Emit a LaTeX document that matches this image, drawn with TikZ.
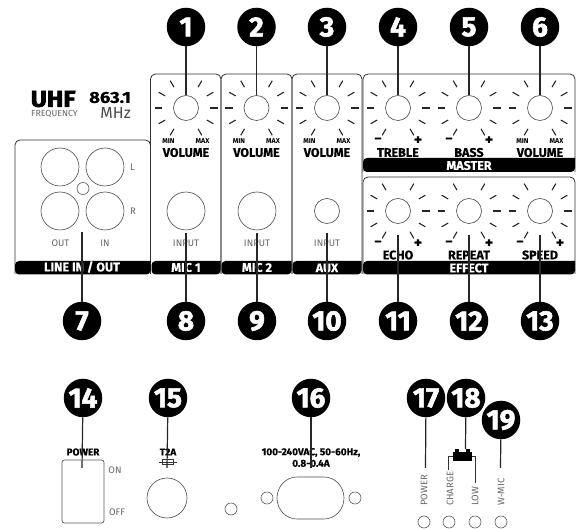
\documentclass[tikz,border=0pt]{standalone}
\usepackage{fontspec}
\setmainfont{Fira Sans}
\usepackage{tikz}
\usepackage{xcolor}
\newcommand{\sz}[1]{\fontsize{#1}{#1}\selectfont}
\newfontfamily\numfont[FakeBold=2]{Fira Sans Bold}
\newfontfamily\logofont[FakeBold=2.5]{Fira Sans Bold}
\newfontfamily\wordfont[FakeBold=0.4]{Fira Sans Bold}
\tikzset{
  callout/.style={circle, fill=black, minimum size=38.5pt, inner sep=0pt, text=white, font=\numfont\sz{28}},
  leader/.style={line width=1.2pt, black!85},
  panel/.style={draw=black!80, line width=0.8pt, rounded corners=5pt},
  band/.style={fill=black, rounded corners=4pt},
  bandlabel/.style={text=white, inner sep=0pt, font=\wordfont\sz{12.5}},
  knob/.style={circle, draw=black!70, line width=0.6pt, minimum size=25pt, inner sep=0pt},
  jack/.style={circle, draw=black!70, line width=0.6pt, minimum size=38pt, inner sep=0pt},
  led/.style={circle, draw=black!65, line width=0.6pt, minimum size=12pt, inner sep=0pt},
  tick/.style={line width=1.1pt, black!85},
  title/.style={inner sep=0pt, font=\wordfont\sz{12.5}},
  small/.style={inner sep=0pt, font=\bfseries\sz{7}},
  sign/.style={inner sep=0pt, font=\wordfont\sz{15}},
  faint/.style={inner sep=0pt, text=black!60, font=\sz{9.5}},
  smalltitle/.style={inner sep=0pt, font=\wordfont\sz{10}},
}
\begin{document}
\begin{tikzpicture}[x=1pt, y=-1pt]
  \useasboundingbox (0,0) rectangle (579,529);
  % === Logo ===
  \node[inner sep=0pt, anchor=west, xscale=1.08, font=\logofont\sz{23}] (uhf) at (30.5,99) {UHF};
  \node[inner sep=0pt, anchor=west, text=black!60, font=\sz{8.8}] (freq) at (31,114) {FREQUENCY};
  \node[inner sep=0pt, anchor=east, xscale=1.15, font=\wordfont\sz{16}] (freqval) at (131,97.5) {863.1};
  \node[inner sep=0pt, anchor=east, text=black!70, font=\sz{16}] (mhz) at (131,112.5) {MHz};
  % === Panels ===
  \draw[panel] (15,274) |- (150.5,140) -- (150.5,274);
  \foreach \xa/\xb in {150.5/221, 221/292, 292/362}
    \draw[panel] (\xa,274) -- (\xa,74) -- (\xb,74) -- (\xb,274);
  \draw[panel] (363,172) |- (575,74) -- (575,172);
  \draw[panel] (363,274) |- (575,177) -- (575,274);
  % === Bands ===
  \foreach \xa/\xb/\ya/\yb in {15/150.5/261/274.5, 151.5/220.5/261/274.5, 221.5/291.5/261/274.5,
      292.5/361.5/261/274.5, 363/575/158/172, 363/575/261/274.5}
    \fill[band] (\xa,\ya) [sharp corners] -- (\xb,\ya) [rounded corners=4pt] -- (\xb,\yb) -- (\xa,\yb) -- cycle;
  \node[bandlabel] (blinein) at (82,267) {LINE IN / OUT};
  \node[bandlabel] (bmic1) at (186,267.5) {MIC 1};
  \node[bandlabel] (bmic2) at (257,267.5) {MIC 2};
  \node[bandlabel] (baux) at (327,268) {AUX};
  \node[bandlabel] (bmaster) at (469,165.5) {MASTER};
  \node[bandlabel] (beffect) at (469,268) {EFFECT};
  % === Knobs ===
  \foreach \n/\xx in {1/186, 2/256.5, 3/327, 4/398, 5/469, 6/540} {
    \node[knob] (k\n) at (\xx,108) {};
    \foreach \ang in {0,30,60,120,150,180,210,240,300,330}
      \draw[tick] (k\n.center) ++(\ang:24) -- ++(\ang:7.5);
  }
  \foreach \n/\xx in {11/398, 12/469, 13/540} {
    \node[knob] (k\n) at (\xx,211) {};
    \foreach \ang in {0,30,60,90,120,150,180,210,240,300,330}
      \draw[tick] (k\n.center) ++(\ang:24) -- ++(\ang:7.5);
  }
  \foreach \n/\xx/\yy/\lbl in {1/186/152.5/VOLUME, 2/256.5/152.5/VOLUME, 3/327/152.5/VOLUME, 4/398/152.5/TREBLE,
      5/469/152.5/BASS, 6/540/152.5/VOLUME, 11/398/255/ECHO, 12/469/255/REPEAT, 13/540/255/SPEED}
    \node[title] (t\n) at (\xx,\yy) {\lbl};
  \foreach \n/\xx in {1/186, 2/256.5, 3/327, 6/540} {
    \node[small] (min\n) at (\xx-17.5,141) {MIN};
    \node[small] (max\n) at (\xx+16.5,141) {MAX};
  }
  \foreach \n/\xx/\yy in {4/398/140.5, 5/469/140.5, 11/398/243.5, 12/469/243.5, 13/540/243.5} {
    \node[sign] (minus\n) at (\xx-20,\yy) {\textminus};
    \node[sign] (plus\n) at (\xx+20,\yy) {+};
  }
  % === Jacks ===
  \node[jack] (j1) at (60,167) {};
  \node[jack] (j2) at (105,167) {};
  \node[jack] (j3) at (60,211) {};
  \node[jack] (j4) at (105,211) {};
  \node[led] (j5) at (83,188.5) {};
  \node[jack] (j8) at (186,211) {};
  \node[jack] (j9) at (257,211) {};
  \node[knob] (j10) at (327,211) {};
  \node[faint] (lleft) at (132.5,167) {L};
  \node[faint] (lright) at (133,211.5) {R};
  \node[faint] (lout) at (60.5,243) {OUT};
  \node[faint] (lin) at (105,243) {IN};
  \node[faint] (in8) at (186,243) {INPUT};
  \node[faint] (in9) at (257,243) {INPUT};
  \node[faint] (in10) at (327,243) {INPUT};
  % === Spodni cast ===
  \node[smalltitle] (lpower) at (83,452) {POWER};
  \draw[draw=black!65, line width=0.7pt, rounded corners=2.5pt] (62,460) rectangle (104,523);
  \node[faint] (lon) at (115,470) {ON};
  \node[faint] (loff) at (117,512) {OFF};
  \node[smalltitle] (lfuse) at (168,452) {T2A};
  \draw[black!80, line width=0.7pt] (159,462) -- (177,462);
  \draw[black!80, line width=0.7pt] (162,459.5) rectangle (173,464.5);
  \node[circle, draw=black!70, line width=0.6pt, minimum size=40pt, inner sep=0pt] (fuse) at (167,498) {};
  \node[led] (s1) at (231,509) {};
  \node[led] (s2) at (267,498) {};
  \node[led] (s3) at (355,498) {};
  \draw[black!70, line width=0.6pt] (297,477) -- (324,477) arc[start angle=90, end angle=-90, x radius=20pt, y radius=21pt]
    -- (297,519) arc[start angle=270, end angle=90, x radius=20pt, y radius=21pt];
  \node[smalltitle, align=center] (lmains) at (311,457.5) {100-240VAC, 50-60Hz,\\[1.5pt]0.8-0.4A};
  \foreach \n/\xx in {1/424, 2/449, 3/475, 4/501}
    \node[led] (l\n) at (\xx,522) {};
  \foreach \n/\xx/\lbl in {1/424/POWER, 2/450/CHARGE, 3/475/LOW, 4/501/W-MIC}
    \node[faint, rotate=90, anchor=west] (r\n) at (\xx,506) {\lbl};
  % baterie
  \node[fill=black, minimum width=19pt, minimum height=9pt, inner sep=0pt] (batt) at (462.5,456.5) {};
  \fill[black] (455,449.5) rectangle (459,452);
  \fill[black] (466,449.5) rectangle (470,452);
  \draw[black!80, line width=0.7pt] (batt.west) -- (448.5,456.5) -- (448.5,470);
  \draw[black!80, line width=0.7pt] (batt.east) -- (475,456.5) -- (475,483);
  % === Cisla a vodici cary ===
  \foreach \n/\xx/\yy in {7/82/232, 8/186/233, 9/257/233, 10/327/233, 11/398/236, 12/469/236, 13/540/236,
      14/82/468, 15/167/468, 16/311/468, 17/425.5/468, 18/465.5/449, 19/500.5/468}
    \coordinate (e\n) at (\xx,\yy);
  \foreach \n/\xx in {1/186, 2/256.5, 3/327, 4/398, 5/469, 6/540} {
    \node[callout] (c\n) at (\xx,27) {\n};
    \draw[leader] (c\n) -- (k\n);
  }
  \foreach \n/\xx in {7/82, 8/186, 9/257, 10/327, 11/398, 12/469, 13/540} {
    \node[callout] (c\n) at (\xx,321) {\n};
    \draw[leader] (c\n) -- (e\n);
  }
  \foreach \n/\xx/\yy in {14/83/398, 15/168/398, 16/311/398, 17/426/398, 18/466/398, 19/501/420} {
    \node[callout] (c\n) at (\xx,\yy) {\n};
    \draw[leader] (c\n) -- (e\n);
  }
\end{tikzpicture}
\end{document}
